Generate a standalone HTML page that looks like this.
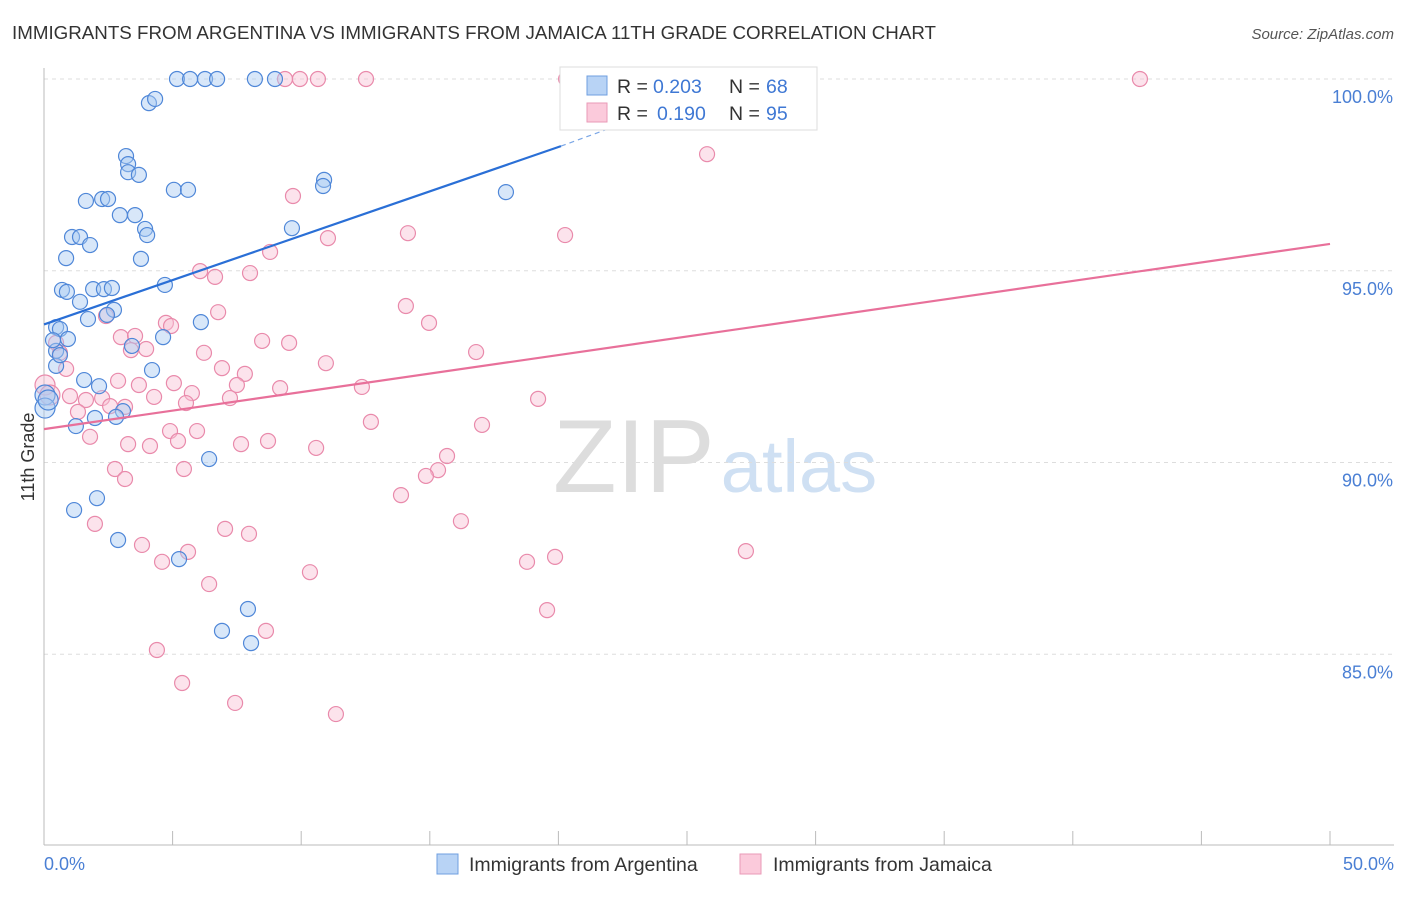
<!DOCTYPE html>
<html><head><meta charset="utf-8">
<style>
body{margin:0;background:#fff;font-family:"Liberation Sans",sans-serif;}
svg text{font-family:"Liberation Sans",sans-serif;}
</style></head>
<body>
<svg id="chart" width="1406" height="892" xmlns="http://www.w3.org/2000/svg">
<text x="12" y="39" font-size="18.5" fill="#333" textLength="924" lengthAdjust="spacingAndGlyphs">IMMIGRANTS FROM ARGENTINA VS IMMIGRANTS FROM JAMAICA 11TH GRADE CORRELATION CHART</text>
<text x="1394" y="39" font-size="15" fill="#555" text-anchor="end" font-style="italic">Source: ZipAtlas.com</text>
<text x="553" y="492" font-size="104" fill="#ddd" font-family="Liberation Serif">ZIP<tspan fill="#cfe0f3" font-family="Liberation Sans" font-size="74" dx="6">atlas</tspan></text>
<g id="grid"></g>
<g id="axes"></g>
<g id="pts"></g>
<g id="trends"></g>
<text transform="translate(34,457) rotate(-90)" font-size="18" fill="#333" text-anchor="middle">11th Grade</text>
<text x="44" y="870" font-size="18" fill="#4a7fd4">0.0%</text>
<text x="1394" y="870" font-size="18" fill="#4a7fd4" text-anchor="end">50.0%</text>
<g>
<rect x="560" y="67" width="257" height="63" fill="#fff" stroke="#ddd"/>
<rect x="587" y="76" width="20" height="19" fill="#b8d3f5" stroke="#6f9fe0"/>
<rect x="587" y="103" width="20" height="19" fill="#fbcadb" stroke="#e99ab7"/>
<text x="617" y="93" font-size="19.5" fill="#333">R =</text>
<text x="653" y="93" font-size="19.5" fill="#3f78d4">0.203</text>
<text x="729" y="93" font-size="19.5" fill="#333">N =</text>
<text x="766" y="93" font-size="19.5" fill="#3f78d4">68</text>
<text x="617" y="120" font-size="19.5" fill="#333">R =</text>
<text x="657" y="120" font-size="19.5" fill="#3f78d4">0.190</text>
<text x="729" y="120" font-size="19.5" fill="#333">N =</text>
<text x="766" y="120" font-size="19.5" fill="#3f78d4">95</text>
</g>
<g>
<rect x="437" y="854" width="21" height="20" fill="#b8d3f5" stroke="#6f9fe0"/>
<text x="469" y="871" font-size="19.5" fill="#333">Immigrants from Argentina</text>
<rect x="740" y="854" width="21" height="20" fill="#fbcadb" stroke="#e99ab7"/>
<text x="773" y="871" font-size="19.5" fill="#333">Immigrants from Jamaica</text>
</g>
</svg>
<script>
const yTicks=[100,95,90,85];
const yTickLabels=["100.0%","95.0%","90.0%","85.0%"];
const blueX=[5.17,5.68,6.26,6.73,8.20,8.98,4.08,4.32,3.19,3.27,3.27,3.69,5.05,5.60,10.89,10.85,17.96,1.63,2.26,2.49,2.95,3.54,3.93,4.01,1.09,1.40,1.79,0.86,3.77,9.64,0.70,0.89,1.91,2.33,2.64,4.70,1.40,2.72,1.71,2.45,6.10,0.47,0.62,4.63,0.93,3.42,0.47,4.20,0.47,1.56,2.14,0.04,0.04,3.07,2.80,1.98,1.24,6.42,2.06,1.17,2.88,5.25,7.93,6.92,8.05,0.16,0.35,0.62];
const blueY=[100,100,100,100,100,100,99.37,99.48,97.99,97.78,97.57,97.50,97.11,97.11,97.37,97.21,97.05,96.82,96.87,96.87,96.45,96.45,96.09,95.93,95.88,95.88,95.67,95.33,95.31,96.11,94.50,94.45,94.52,94.52,94.55,94.63,94.19,93.98,93.74,93.85,93.66,93.53,93.48,93.27,93.22,93.04,92.91,92.41,92.52,92.15,91.99,91.76,91.42,91.34,91.19,91.16,90.95,90.09,89.07,88.76,87.98,87.48,86.18,85.61,85.29,91.63,93.19,92.80];
const pinkX=[9.37,9.95,10.65,12.52,20.30,42.61,25.78,9.68,11.04,14.15,20.26,8.79,6.07,6.65,8.01,14.07,6.77,14.97,4.74,2.41,2.99,3.54,4.94,8.48,9.53,3.97,3.38,6.22,16.80,0.47,0.62,10.96,6.92,0.86,7.81,2.88,3.69,5.05,7.50,9.18,12.36,5.75,7.23,4.28,5.52,19.21,1.01,2.26,2.57,1.63,1.32,3.15,12.71,17.03,4.90,5.95,1.79,5.21,3.27,4.12,7.66,8.71,10.58,15.67,15.32,14.85,2.76,5.44,3.15,13.88,16.21,1.98,7.04,7.97,3.81,5.60,4.59,18.78,19.87,27.29,10.34,6.42,19.56,8.63,4.39,5.37,7.43,11.35,0.04,0.23];
const pinkY=[100,100,100,100,100,100,98.04,96.95,95.85,95.98,95.93,95.49,94.99,94.84,94.94,94.08,93.92,93.64,93.64,93.82,93.27,93.30,93.56,93.17,93.12,92.96,92.93,92.86,92.88,93.12,92.86,92.59,92.46,92.44,92.31,92.13,92.02,92.07,92.02,91.94,91.97,91.81,91.68,91.71,91.55,91.66,91.73,91.68,91.47,91.63,91.32,91.45,91.06,90.98,90.82,90.82,90.67,90.56,90.48,90.43,90.48,90.56,90.38,90.17,89.80,89.65,89.83,89.83,89.57,89.15,88.47,88.40,88.27,88.14,87.85,87.67,87.41,87.41,87.54,87.69,87.14,86.83,86.15,85.61,85.11,84.25,83.73,83.44,92.02,91.76];
const blueTrend=[[0,93.6],[20.1,98.25]];
const blueDash=[[20.1,98.25],[25,99.45]];
const pinkTrend=[[0,90.87],[50,95.7]];
const NS="http://www.w3.org/2000/svg";
const X=v=>44+v*25.72, Y=v=>79+(100-v)*38.35;
function mk(tag,attrs,parent){const e=document.createElementNS(NS,tag);for(const k in attrs)e.setAttribute(k,attrs[k]);parent.appendChild(e);return e;}
const grid=document.getElementById('grid'),axes=document.getElementById('axes'),pts=document.getElementById('pts'),tr=document.getElementById('trends');
yTicks.forEach((t,i)=>{
 const l=mk('line',{x1:44,x2:1394,y1:Y(t),y2:Y(t),stroke:'#ddd','stroke-dasharray':'4,4'},grid);
 
 
 const tx=mk('text',{x:1393,y:Y(t)+24,'font-size':18,fill:'#4a7fd4','text-anchor':'end'},grid);
 tx.textContent=yTickLabels[i];
 
 
});
let a=mk('line',{x1:44,x2:44,y1:68,y2:845,stroke:'#bbb'},axes);


a=mk('line',{x1:44,x2:1394,y1:845,y2:845,stroke:'#bbb'},axes);


for(let i=0;i<=10;i++){const tk=mk('line',{x1:X(i*5),x2:X(i*5),y1:831,y2:845,stroke:'#bbb'},axes);
 
 }
function dots(xs,ys,fill,stroke,name){xs.forEach((x,i)=>{const c=mk('circle',{cx:X(x),cy:Y(ys[i]),r:(x<0.3?10:7.5),fill:fill,'fill-opacity':0.45,stroke:stroke,'stroke-width':1.2},pts);
 
 });}
dots(pinkX,pinkY,'#f9c1d4','#e98aab','jamaica-point');
dots(blueX,blueY,'#a9c9f2','#4f87d8','argentina-point');
function line(p,col,w,dash,name){const l=mk('line',{x1:X(p[0][0]),y1:Y(p[0][1]),x2:X(p[1][0]),y2:Y(p[1][1]),stroke:col,'stroke-width':w},tr);if(dash)l.setAttribute('stroke-dasharray',dash);
 
 }
line(blueTrend,'#2a6fd6',2.2,null,'argentina-trend');
line(blueDash,'#7aa6e6',1.2,'5,4','argentina-trend-extension');
line(pinkTrend,'#e8709a',2.2,null,'jamaica-trend');
</script>
</body></html>
